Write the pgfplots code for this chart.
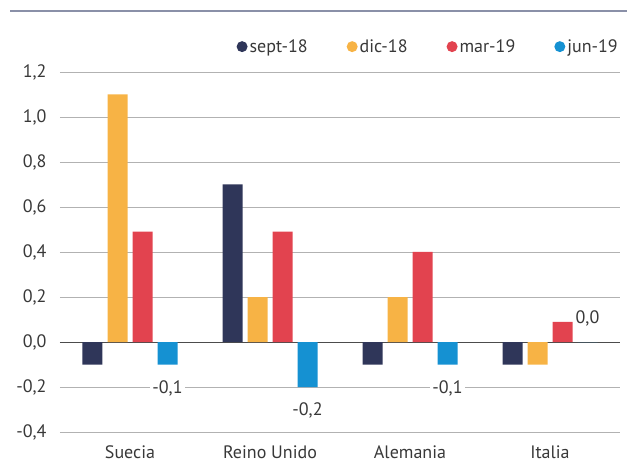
\documentclass[border=0pt]{standalone}
\usepackage{pgfplots}
\pgfplotsset{compat=1.18}
\usepackage{fontspec}
\setmainfont{PT Sans}
\definecolor{cSep}{HTML}{2F3659}
\definecolor{cDic}{HTML}{F7B345}
\definecolor{cMar}{HTML}{E2434F}
\definecolor{cJun}{HTML}{1591D2}
\definecolor{txt}{HTML}{383838}
\definecolor{topline}{HTML}{8A90A8}
\newcommand{\fs}{\fontsize{18}{21}\selectfont}
\begin{document}
\begin{tikzpicture}[x=1pt,y=1pt]
\path[use as bounding box] (0,0) rectangle (627,464);
\draw[color=topline, line width=1.3pt] (10,453) -- (627,453);
\begin{axis}[
  at={(60pt,32pt)}, anchor=south west,
  width=560pt, height=360pt, scale only axis,
  xmin=-0.5, xmax=3.5, ymin=-0.4, ymax=1.2,
  ybar=5pt, bar width=20pt,
  axis line style={draw=none}, tick style={draw=none},
  major tick length=0pt,
  ytick={-0.4,-0.2,0,0.2,0.4,0.6,0.8,1.0,1.2},
  /pgf/number format/fixed, /pgf/number format/fixed zerofill,
  /pgf/number format/precision=1, /pgf/number format/use comma,
  /pgf/number format/assume math mode=true,
  yticklabel style={font=\fs, text=txt, xshift=-10pt},
  xtick={0,1,2,3},
  xticklabels={Suecia, Reino Unido, Alemania, Italia},
  xticklabel style={font=\fs, text=txt, yshift=-10pt},
  ymajorgrids, grid style={black!30, line width=0.9pt},
  extra y ticks={0}, extra y tick labels={},
  extra y tick style={grid style={black!70, line width=1pt}},
  legend columns=4,
  legend style={at={(1,1)}, anchor=south east, yshift=16pt, draw=none, fill=none, font=\fs, text=txt,
    /tikz/every even column/.append style={column sep=37pt}, inner sep=0pt},
  legend image code/.code={\fill[#1] (3pt,0pt) circle (5.5pt);},
  legend cell align=left,
]
\addplot[fill=cSep, draw=none] coordinates {(0,-0.1) (1,0.7) (2,-0.1) (3,-0.1)};
\addplot[fill=cDic, draw=none] coordinates {(0,1.1) (1,0.2) (2,0.2) (3,-0.1)};
\addplot[fill=cMar, draw=none] coordinates {(0,0.49) (1,0.49) (2,0.4) (3,0.09)};
\addplot[fill=cJun, draw=none,
  nodes near coords,
  every node near coord/.append style={font=\fs, text=txt, fill=white, inner sep=2pt, outer ysep=14pt}
  ] coordinates {(0,-0.1) (1,-0.2) (2,-0.1) (3,0.0)};
\legend{sept-18, dic-18, mar-19, jun-19}
\end{axis}
\end{tikzpicture}
\end{document}
